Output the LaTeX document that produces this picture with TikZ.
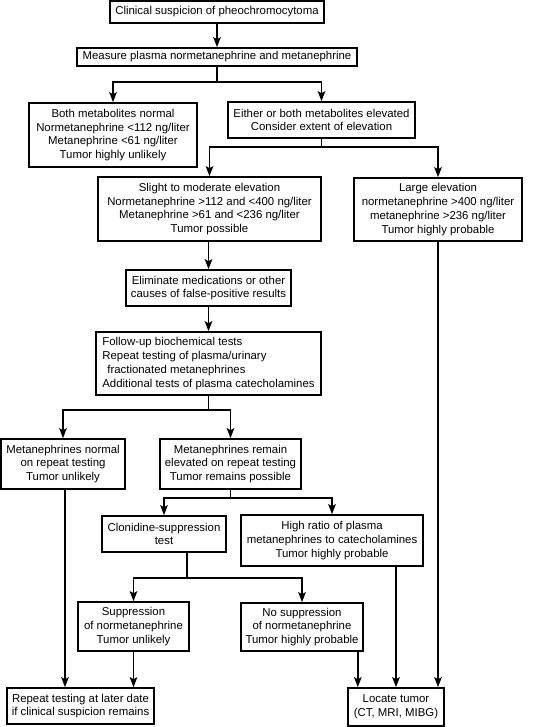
\documentclass[tikz,border=0pt]{standalone}
\usepackage{fontspec}
\setmainfont{Liberation Sans}
\usetikzlibrary{arrows.meta}
\begin{document}
\begin{tikzpicture}[x=1pt,y=-1pt,
  box/.style={draw, line width=1.6pt, inner sep=0pt, align=center, font=\fontsize{11.4}{13.8}\selectfont},
  arr/.style={line width=1.6pt, -{Stealth[length=10pt,width=7.5pt,inset=2pt]}},
  ln/.style={line width=1.6pt}]
\useasboundingbox (0,0) rectangle (559,727);
\node[box, minimum width=214, minimum height=22] (b1) at (217,12) {Clinical suspicion of pheochromocytoma};
\node[box, minimum width=280, minimum height=18] (b2) at (217,57) {Measure plasma normetanephrine and metanephrine};
\node[box, minimum width=168, minimum height=64] (b3) at (113,135) {Both metabolites normal\\Normetanephrine <112 ng/liter\\Metanephrine <61 ng/liter\\Tumor highly unlikely};
\node[box, minimum width=187, minimum height=36] (b4) at (321.5,120) {Either or both metabolites elevated\\Consider extent of elevation};
\node[box, minimum width=223, minimum height=64] (b5) at (209.5,209) {Slight to moderate elevation\\Normetanephrine >112 and <400 ng/liter\\Metanephrine >61 and <236 ng/liter\\Tumor possible};
\node[box, minimum width=168, minimum height=63] (b6) at (438,209.5) {Large elevation\\normetanephrine >400 ng/liter\\metanephrine >236 ng/liter\\Tumor highly probable};
\node[box, minimum width=165, minimum height=36] (b7) at (208.5,288) {Eliminate medications or other\\causes of false-positive results};
\node[box, minimum width=225, minimum height=63, align=left] (b8) at (208.5,363.5) {Follow-up biochemical tests\\Repeat testing of plasma/urinary\\\hspace*{5pt}fractionated metanephrines\\Additional tests of plasma catecholamines};
\node[box, minimum width=124, minimum height=50] (b9) at (63,464) {Metanephrines normal\\on repeat testing\\Tumor unlikely};
\node[box, minimum width=141, minimum height=50] (b10) at (230.5,464) {Metanephrines remain\\elevated on repeat testing\\Tumor remains possible};
\node[box, minimum width=124, minimum height=36] (b11) at (164,534) {Clonidine-suppression\\test};
\node[box, minimum width=182, minimum height=51] (b12) at (332,540.5) {High ratio of plasma\\metanephrines to catecholamines\\Tumor highly probable};
\node[box, minimum width=111, minimum height=49] (b13) at (133.5,626.5) {Suppression\\of normetanephrine\\Tumor unlikely};
\node[box, minimum width=122, minimum height=48] (b14) at (302,627) {No suppression\\of normetanephrine\\Tumor highly probable};
\node[box, minimum width=147, minimum height=36] (b15) at (80.5,706) {Repeat testing at later date\\if clinical suspicion remains};
\node[box, minimum width=96, minimum height=38] (b16) at (396,707) {Locate tumor\\(CT, MRI, MIBG)};
% connectors
\draw[arr] (b1) -- (b2);
\draw[ln] (b2.south) -- ++(0,15) coordinate (f1);
\draw[arr] (f1) -| (b3.north);
\draw[arr] (f1) -| (b4.north);
\draw[ln] (b4.south) -- ++(0,8) coordinate (f2);
\draw[arr] (f2) -| (b5.north);
\draw[arr] (f2) -| (b6.north);
\draw[arr] (b7.north |- b5.south) -- (b7.north);
\draw[arr] (b7) -- (b8);
\draw[ln] (b8.south) -- ++(0,14) coordinate (f3);
\draw[arr] (f3) -| (b9.north);
\draw[arr] (f3) -| (b10.north);
\draw[ln] (b10.south) -- ++(0,8) coordinate (f4);
\draw[arr] (f4) -| (b11.north);
\draw[arr] (f4) -| (b12.north);
\draw[ln] ([xshift=23pt]b11.south) -- ++(0,25) coordinate (f5);
\draw[arr] (f5) -| (b13.north);
\draw[arr] (f5) -| (b14.north);
\draw[arr] ([xshift=2pt]b9.south) -- ([xshift=2pt]b9.south |- b15.north);
\draw[arr] (b13.south) -- (b13.south |- b15.north);
\draw[arr] ([xshift=-6pt]b14.south east) -- ([xshift=-6pt]b14.south east |- b16.north);
\draw[arr] (b16.north |- b12.south) -- (b16.north);
\draw[arr] (b6.south) -- (b6.south |- b16.north);
\end{tikzpicture}
\end{document}
